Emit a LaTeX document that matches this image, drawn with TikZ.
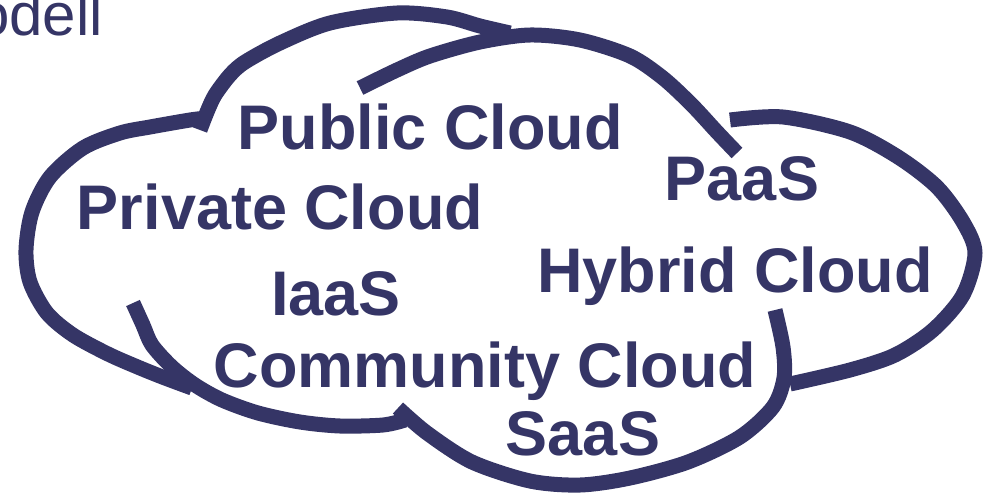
\documentclass[tikz,border=0pt]{standalone}
\usepackage{fontspec}
\setmainfont{Liberation Sans}
\usepackage{xcolor}
\usepackage{tikz}

\definecolor{wolke}{RGB}{53,53,102}

\begin{document}
\begin{tikzpicture}[x=1pt,y=-1pt,
    bogen/.style={draw=wolke,line width=15pt,line cap=butt},
    begriff/.style={text=wolke,font=\fontsize{63}{70}\selectfont\bfseries,inner sep=0pt,anchor=base}]
  \useasboundingbox (0,0) rectangle (983,496);
  \clip (0,0) rectangle (983,496);

  % Ueberschrift, links abgeschnitten
  \node[text=wolke,font=\fontsize{60}{66}\selectfont,inner sep=0pt,anchor=base east] (titel) at (103,35) {Modell};

  % Wolke aus sechs Boegen
  % links
  \draw[bogen] plot[smooth] coordinates {(207,118) (190,120) (150,127) (120,133) (83,148) (50,177) (32,212) (26,250) (30,282) (47,313) (73,335) (108,354) (140,368) (165,378) (192,388)};
  % oben links
  \draw[bogen] plot[smooth] coordinates {(200,130) (207,112) (215,95) (230,75) (245,62) (280,43) (330,23) (397,13) (447,17) (480,26) (510,33)};
  % oben rechts
  \draw[bogen] plot[smooth] coordinates {(360,88) (397,70) (430,56) (480,42) (530,35) (580,40) (630,56) (663,78) (692,105) (717,132) (737,153)};
  % rechts
  \draw[bogen] plot[smooth] coordinates {(730,120) (783,117) (850,132) (898,157) (937,187) (963,222) (975,253) (963,295) (933,330) (895,355) (850,370) (790,384)};
  % unten rechts
  \draw[bogen] plot[smooth] coordinates {(775,310) (783,347) (784,378) (773,407) (740,437) (688,462) (630,478) (580,485) (530,481) (472,462) (427,433) (398,408)};
  % unten links
  \draw[bogen] plot[smooth] coordinates {(133,303) (143,325) (152,345) (172,367) (195,385) (222,400) (258,413) (300,422) (340,426) (383,425) (405,420)};

  % Begriffe in der Wolke
  \node[begriff] (public) at (430,149) {Public Cloud};
  \node[begriff] (private) at (280,229) {Private Cloud};
  \node[begriff] (paas) at (742,200) {PaaS};
  \node[begriff] (hybrid) at (735,292) {Hybrid Cloud};
  \node[begriff] (iaas) at (336,315) {IaaS};
  \node[begriff] (community) at (485,387) {Community Cloud};
  \node[begriff] (saas) at (583,455) {SaaS};
\end{tikzpicture}
\end{document}
